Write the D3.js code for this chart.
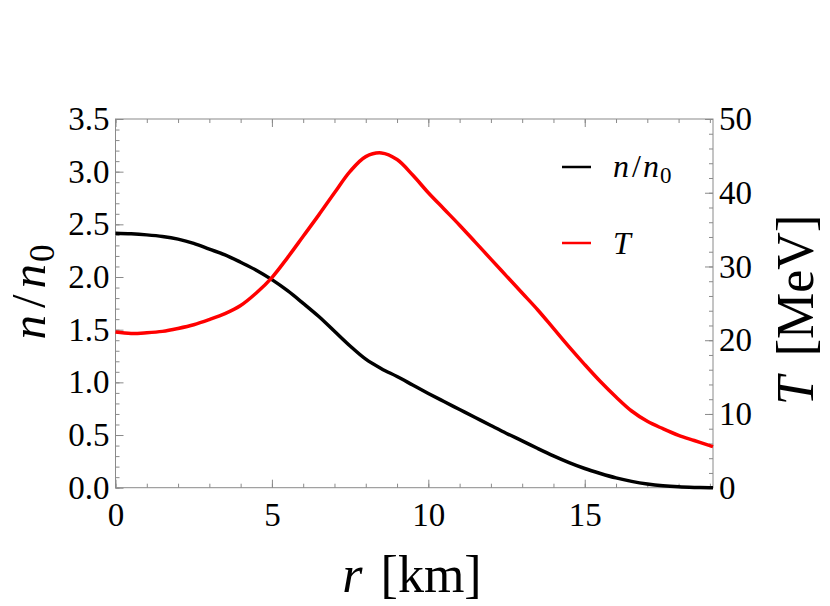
<!DOCTYPE html>
<html>
<head>
<meta charset="utf-8">
<script src="https://cdn.jsdelivr.net/npm/d3@7.9.0/dist/d3.min.js"></script>
<style>
  body { margin: 0; background: #fff; }
  svg text { font-family: "Liberation Serif", "Times New Roman", Tinos, "DejaVu Serif", "Noto Serif", serif !important; }
</style>
</head>
<body>
<svg id="chart" width="830" height="606"></svg>
<script>
// radius in km
const radius = [0, 0.5, 1, 1.5, 2, 2.5, 3, 3.5, 4, 4.5, 5, 5.5, 6, 6.5, 7, 7.5, 8, 8.5, 9, 9.5,
  10, 10.5, 11, 11.5, 12, 12.5, 13, 13.5, 14, 14.5, 15, 15.5, 16, 16.5, 17, 17.5, 18, 18.5, 19, 19.1];

// density n/n0
const density = [2.415, 2.41, 2.40, 2.385, 2.36, 2.32, 2.265, 2.21, 2.14, 2.065, 1.975, 1.87, 1.75, 1.625, 1.485, 1.345, 1.22, 1.13, 1.055, 0.975,
  0.895, 0.818, 0.742, 0.666, 0.59, 0.515, 0.445, 0.372, 0.302, 0.238, 0.182, 0.135, 0.093, 0.06, 0.035, 0.018, 0.008, 0.003, 0.0005, 0];

// temperature in MeV
const temperature = [21.1, 20.9, 21.0, 21.2, 21.6, 22.1, 22.8, 23.6, 24.7, 26.4, 28.5, 31.2, 34.1, 37.0, 40.0, 42.9, 44.9, 45.4, 44.5, 42.4,
  40.0, 37.8, 35.6, 33.3, 31.0, 28.7, 26.4, 24.1, 21.6, 19.1, 16.7, 14.4, 12.3, 10.4, 9.0, 8.0, 7.1, 6.4, 5.7, 5.56];

const xTicks = [0, 5, 10, 15];
const nTicks = [0, 0.5, 1, 1.5, 2, 2.5, 3, 3.5];
const tTicks = [0, 10, 20, 30, 40, 50];

const svg = d3.select("#chart");
const plotL = 115.5, plotR = 713, plotT = 119, plotB = 487.7;

const x = d3.scaleLinear().domain([0, 19.1]).range([plotL, plotR]);
const yN = d3.scaleLinear().domain([0, 3.5]).range([plotB, plotT]);
const yT = d3.scaleLinear().domain([0, 50]).range([plotB, plotT]);

const tickColor = "#8a8a8a";

// minor ticks first (no labels)
const minorX = d3.range(0, 19.01, 1);
const minorN = d3.range(0, 3.501, 0.1);
const minorT = d3.range(0, 50.01, 2);

function styleAxis(g) {
  g.select(".domain").remove();
  g.attr("font-family", null);
  g.selectAll(".tick line").attr("stroke", tickColor);
}

svg.append("g").attr("transform", `translate(0,${plotB})`)
  .call(d3.axisBottom(x).tickValues(minorX).tickSize(-4).tickFormat(""))
  .call(styleAxis);
svg.append("g").attr("transform", `translate(0,${plotT})`)
  .call(d3.axisTop(x).tickValues(minorX).tickSize(-4).tickFormat(""))
  .call(styleAxis);
svg.append("g").attr("transform", `translate(${plotL},0)`)
  .call(d3.axisLeft(yN).tickValues(minorN).tickSize(-4).tickFormat(""))
  .call(styleAxis);
svg.append("g").attr("transform", `translate(${plotR},0)`)
  .call(d3.axisRight(yT).tickValues(minorT).tickSize(-4).tickFormat(""))
  .call(styleAxis);

// major ticks with labels
const fs = 33;
svg.append("g").attr("transform", `translate(0,${plotB})`)
  .call(d3.axisBottom(x).tickValues(xTicks).tickSize(-8).tickPadding(15).tickFormat(d3.format("d")))
  .call(styleAxis)
  .selectAll("text").attr("font-size", fs).attr("fill", "#000");
svg.append("g").attr("transform", `translate(0,${plotT})`)
  .call(d3.axisTop(x).tickValues(xTicks).tickSize(-8).tickFormat(""))
  .call(styleAxis);
svg.append("g").attr("transform", `translate(${plotL},0)`)
  .call(d3.axisLeft(yN).tickValues(nTicks).tickSize(-8).tickPadding(6).tickFormat(d3.format(".1f")))
  .call(styleAxis)
  .selectAll("text").attr("font-size", fs).attr("fill", "#000");
svg.append("g").attr("transform", `translate(${plotR},0)`)
  .call(d3.axisRight(yT).tickValues(tTicks).tickSize(-8).tickPadding(6).tickFormat(d3.format("d")))
  .call(styleAxis)
  .selectAll("text").attr("font-size", fs).attr("fill", "#000");

// frame
svg.append("rect")
  .attr("x", plotL).attr("y", plotT)
  .attr("width", plotR - plotL).attr("height", plotB - plotT)
  .attr("fill", "none").attr("stroke", tickColor).attr("stroke-width", 1);

// curves
const pts = radius.map((r, i) => ({ r, n: density[i], t: temperature[i] }));

svg.append("path")
  .datum(pts)
  .attr("fill", "none").attr("stroke", "#000").attr("stroke-width", 3.5)
  .attr("d", d3.line().x(d => x(d.r)).y(d => yN(d.n)).curve(d3.curveCatmullRom.alpha(0.5)));

svg.append("path")
  .datum(pts)
  .attr("fill", "none").attr("stroke", "#ff0000").attr("stroke-width", 3.5)
  .attr("d", d3.line().x(d => x(d.r)).y(d => yT(d.t)).curve(d3.curveCatmullRom.alpha(0.5)));

// legend
const legend = [
  { color: "#000", y: 167 },
  { color: "#ff0000", y: 243 }
];
legend.forEach(l => {
  svg.append("line")
    .attr("x1", 562).attr("x2", 591).attr("y1", l.y).attr("y2", l.y)
    .attr("stroke", l.color).attr("stroke-width", 2.5);
});
const lt1 = svg.append("text").attr("x", 613).attr("y", 167 + 10).attr("font-size", 32);
lt1.append("tspan").attr("font-style", "italic").text("n");
lt1.append("tspan").attr("dx", 3).text("/");
lt1.append("tspan").attr("font-style", "italic").attr("dx", 2).text("n");
lt1.append("tspan").attr("font-size", 23).attr("dy", 6).attr("dx", 1).text("0");
svg.append("text").attr("x", 613).attr("y", 243 + 11).attr("font-size", 32)
  .attr("font-style", "italic").text("T");

// axis titles
const xt = svg.append("text").attr("x", 412).attr("y", 592)
  .attr("text-anchor", "middle").attr("font-size", 52);
xt.append("tspan").attr("font-style", "italic").text("r");
xt.append("tspan").attr("dx", 18).text("[km]");

const ylt = svg.append("text").attr("transform", "translate(45,292) rotate(-90)")
  .attr("text-anchor", "middle").attr("font-size", 49);
ylt.append("tspan").attr("font-style", "italic").text("n");
ylt.append("tspan").attr("dx", 7).text("/");
ylt.append("tspan").attr("font-style", "italic").attr("dx", 6).text("n");
ylt.append("tspan").attr("font-size", 35).attr("dy", 9).attr("dx", 2).text("0");

const yrt = svg.append("text").attr("transform", "translate(813,310) rotate(-90)")
  .attr("text-anchor", "middle").attr("font-size", 52);
yrt.append("tspan").attr("font-style", "italic").text("T");
yrt.append("tspan").attr("dx", 20).text("[MeV]");
</script>
</body>
</html>
